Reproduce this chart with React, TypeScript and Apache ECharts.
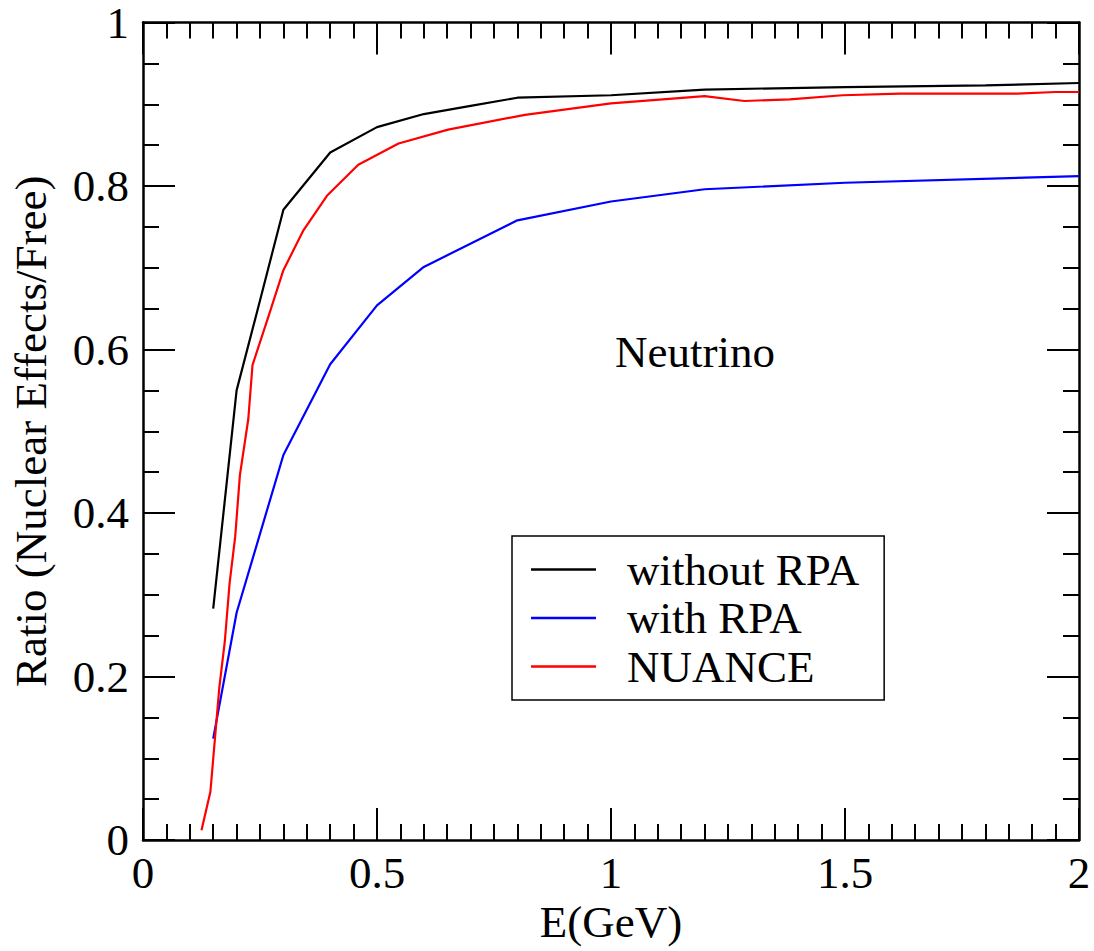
import React, { useEffect, useRef } from "react";
import * as echarts from "echarts";

// Energy E (GeV) and ratio values for each curve
const withoutRpaE = [0.15, 0.2, 0.25, 0.3, 0.4, 0.5, 0.6, 0.7, 0.8, 1.0, 1.2, 1.5, 1.8, 2.0];
const withoutRpaR = [0.283, 0.55, 0.66, 0.771, 0.841, 0.872, 0.888, 0.898, 0.908, 0.911, 0.918, 0.921, 0.923, 0.926];

const withRpaE = [0.15, 0.2, 0.3, 0.4, 0.5, 0.6, 0.8, 1.0, 1.2, 1.5, 2.0];
const withRpaR = [0.124, 0.278, 0.471, 0.582, 0.654, 0.701, 0.758, 0.781, 0.796, 0.804, 0.812];

const nuanceE = [
  0.125, 0.144, 0.163, 0.175, 0.185, 0.197, 0.207, 0.225, 0.234, 0.269, 0.3, 0.342, 0.393, 0.46,
  0.546, 0.652, 0.816, 1.0, 1.2, 1.285, 1.382, 1.495, 1.617, 1.868, 1.95, 2.0,
];
const nuanceR = [
  0.012, 0.059, 0.186, 0.244, 0.314, 0.371, 0.446, 0.515, 0.581, 0.642, 0.697, 0.745, 0.788, 0.826,
  0.852, 0.869, 0.887, 0.901, 0.91, 0.904, 0.906, 0.911, 0.913, 0.913, 0.915, 0.915,
];

const seriesNames = ["without RPA", "with RPA", "NUANCE"];
const seriesColors = ["#000000", "#0000ff", "#ff0000"];

const xTitle = "E(GeV)";
const yTitle = "Ratio (Nuclear Effects/Free)";
const panelLabel = "Neutrino";

const FONT = '"Liberation Serif", "Times New Roman", "DejaVu Serif", serif';
const FS = 45;

const pairs = (xs: number[], ys: number[]) => xs.map((x, i) => [x, ys[i]]);

export default function App() {
  const ref = useRef<HTMLDivElement>(null);

  useEffect(() => {
    if (!ref.current) return;
    const chart = echarts.init(ref.current, undefined, { renderer: "svg" });

    const tickLine = { color: "#000", width: 2 };
    const axisLine = { show: true, onZero: false, lineStyle: { color: "#000", width: 2.5 } };

    const xBase = {
      type: "value" as const,
      min: 0,
      max: 2,
      interval: 0.5,
      axisLine,
      axisTick: { show: true, inside: true, length: 32, lineStyle: tickLine },
      minorTick: { show: true, splitNumber: 10, length: 16, lineStyle: tickLine },
      splitLine: { show: false },
      minorSplitLine: { show: false },
    };
    const yBase = {
      type: "value" as const,
      min: 0,
      max: 1,
      interval: 0.2,
      axisLine,
      axisTick: { show: true, inside: true, length: 32, lineStyle: tickLine },
      minorTick: { show: true, splitNumber: 4, length: 16, lineStyle: tickLine },
      splitLine: { show: false },
      minorSplitLine: { show: false },
    };

    const data = [
      pairs(withoutRpaE, withoutRpaR),
      pairs(withRpaE, withRpaR),
      pairs(nuanceE, nuanceR),
    ];

    chart.setOption({
      animation: false,
      backgroundColor: "#ffffff",
      textStyle: { fontFamily: FONT },
      grid: { left: 141, right: 15, top: 21, bottom: 111, containLabel: false },
      xAxis: [
        {
          ...xBase,
          position: "bottom",
          name: xTitle,
          nameLocation: "middle",
          nameGap: 56,
          nameTextStyle: { fontFamily: FONT, fontSize: FS, color: "#000" },
          axisLabel: { show: true, margin: 10, fontFamily: FONT, fontSize: FS, color: "#000" },
        },
        { ...xBase, position: "top", axisLabel: { show: false } },
      ],
      yAxis: [
        {
          ...yBase,
          position: "left",
          name: yTitle,
          nameLocation: "middle",
          nameGap: 90,
          nameTextStyle: { fontFamily: FONT, fontSize: FS, color: "#000" },
          axisLabel: {
            show: true,
            margin: 14,
            fontFamily: FONT,
            fontSize: FS,
            lineHeight: 40,
            color: "#000",
          },
        },
        { ...yBase, position: "right", axisLabel: { show: false } },
      ],
      legend: {
        show: true,
        orient: "vertical",
        left: 512,
        top: 536,
        padding: [11, 25, 11, 19],
        borderColor: "#000",
        borderWidth: 1.5,
        backgroundColor: "#fff",
        icon: "rect",
        itemWidth: 65,
        itemHeight: 2.5,
        itemGap: 3.5,
        selectedMode: false,
        data: seriesNames,
        textStyle: {
          fontFamily: FONT,
          fontSize: FS,
          lineHeight: 44,
          color: "#000",
          padding: [0, 0, 0, 26],
        },
      },
      graphic: [
        {
          type: "text",
          x: 695,
          y: 352,
          silent: true,
          style: {
            text: panelLabel,
            font: `${FS}px ${FONT}`,
            fill: "#000",
            textAlign: "center",
            textVerticalAlign: "middle",
          },
        },
      ],
      series: seriesNames.map((name, i) => ({
        name,
        type: "line",
        xAxisIndex: 0,
        yAxisIndex: 0,
        data: data[i],
        showSymbol: false,
        symbol: "none",
        color: seriesColors[i],
        lineStyle: { color: seriesColors[i], width: 2.2 },
        z: 2 + i,
      })),
    });

    return () => chart.dispose();
  }, []);

  return (
    <div
      ref={ref}
      style={{ position: "fixed", left: 0, top: 0, width: 1094, height: 951, background: "#fff" }}
    />
  );
}
